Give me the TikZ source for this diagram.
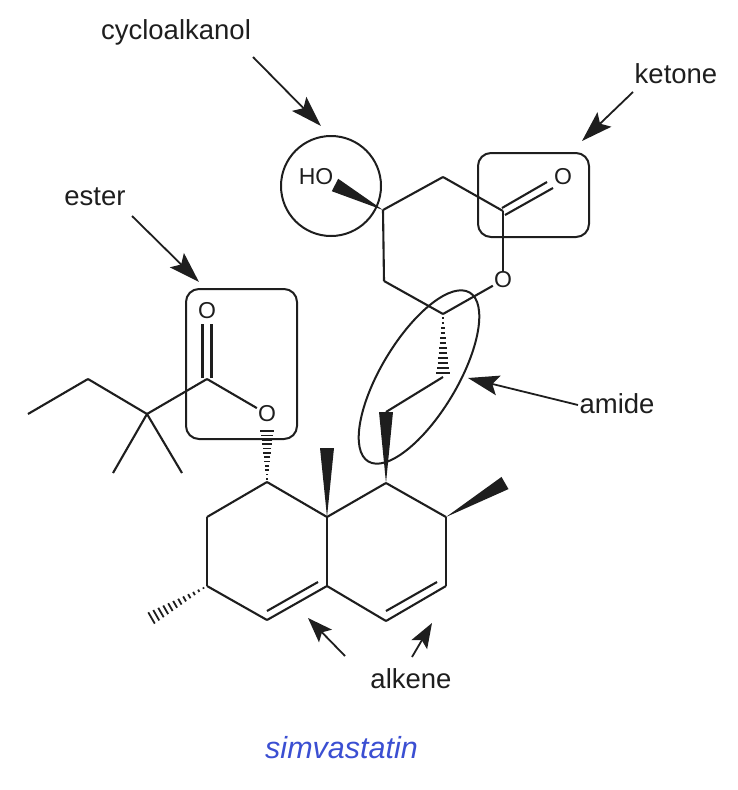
\documentclass[tikz,border=0pt]{standalone}
\usepackage{fontspec}
\setmainfont{Liberation Sans}
\usepackage{tikz}
\usetikzlibrary{arrows.meta}
\usetikzlibrary{calc}
\usetikzlibrary{shapes.geometric}
\definecolor{inkc}{HTML}{1E1E1E}
\definecolor{namec}{HTML}{3B4FD2}
\tikzset{
  bond/.style={draw=inkc,line width=2.1pt,line join=miter},
  atom/.style={inner sep=1pt,text=inkc,font=\fontsize{23}{25}\selectfont},
  lab/.style={inner sep=0pt,text=inkc,font=\fontsize{27.5}{30}\selectfont},
  pointer/.style={draw=inkc,line width=1.8pt,-{Stealth[length=31pt,width=20pt,inset=6pt]}},
  shortpointer/.style={draw=inkc,line width=1.8pt,-{Stealth[length=25pt,width=18pt,inset=5pt]}},
  ring/.style={draw=inkc,line width=2pt,inner sep=0pt},
}
% filled and hashed stereo bonds, narrow end first
\newcommand{\wedgebond}[2]{
  \fill[inkc] (#1) -- ($(#2)!7pt!90:(#1)$) -- ($(#2)!7pt!-90:(#1)$) -- cycle;
}
\newcommand{\hashbond}[2]{
  \foreach \t in {0.06,0.14,...,1.0}{
    \pgfmathsetmacro{\hw}{\t*6.5+0.4}
    \draw[inkc,line width=1.8pt]
      ($($(#1)!\t!(#2)$)!\hw pt!90:(#1)$) -- ($($(#1)!\t!(#2)$)!\hw pt!-90:(#1)$);
  }
}
\begin{document}
\begin{tikzpicture}[x=1pt,y=-1pt]
   \useasboundingbox (0,0) rectangle (738,790);
   % lactone ring
   \coordinate (c_1) at (383,210);
   \coordinate (c_2) at (443,177);
   \coordinate (c_3) at (503,211);
   \coordinate (c_4) at (443,314);
   \coordinate (c_5) at (384,281);
   \node[atom] (o_1) at (563,177) {O};
   \node[atom] (o_2) at (503,280) {O};
   \node[atom] (ho) at (316,177) {HO};
   % side chain
   \coordinate (c_6) at (443,377);
   \coordinate (c_7) at (386,412);
   % decalin
   \coordinate (r_1) at (386,483);
   \coordinate (r_2) at (446,517);
   \coordinate (r_3) at (446,586);
   \coordinate (r_4) at (386,621);
   \coordinate (r_5) at (327,586);
   \coordinate (r_6) at (327,517);
   \coordinate (r_7) at (267,482);
   \coordinate (r_8) at (207,517);
   \coordinate (r_9) at (207,586);
   \coordinate (r_10) at (267,620);
   \coordinate (m_1) at (327,448);
   \coordinate (m_2) at (505,483);
   \coordinate (m_3) at (148,620);
   % ester
   \node[atom] (o_3) at (267,414) {O};
   \node[atom] (o_4) at (207,311) {O};
   \coordinate (e_1) at (207,379);
   \coordinate (e_2) at (147,414);
   \coordinate (e_3) at (88,379);
   \coordinate (e_4) at (28,414);
   \coordinate (e_5) at (113,473);
   \coordinate (e_6) at (182,473);

   \path[bond]
    (c_1) edge (c_2)
    (c_2) edge (c_3)
    (c_3) edge (o_2)
    (o_2) edge (c_4)
    (c_4) edge (c_5)
    (c_5) edge (c_1)
    (c_6) edge (c_7)
    (r_1) edge (r_2)
    (r_2) edge (r_3)
    (r_3) edge (r_4)
    (r_4) edge (r_5)
    (r_5) edge (r_6)
    (r_6) edge (r_1)
    (r_6) edge (r_7)
    (r_7) edge (r_8)
    (r_8) edge (r_9)
    (r_9) edge (r_10)
    (r_10) edge (r_5)
    (e_1) edge (o_3)
    (e_1) edge (e_2)
    (e_2) edge (e_3)
    (e_3) edge (e_4)
    (e_2) edge (e_5)
    (e_2) edge (e_6);
   % double bonds
   \draw[bond] ($(c_3)+(-1,-3)$) -- ($(o_1)+(-16,5)$);
   \draw[bond] ($(c_3)+(2,4)$) -- ($(o_1)+(-10,11)$);
   \draw[bond] ($(e_1)+(-4.5,-1)$) -- ($(o_4)+(-4.5,13)$);
   \draw[bond] ($(e_1)+(4.5,-1)$) -- ($(o_4)+(4.5,13)$);
   \draw[bond] (267,611) -- (318,582);
   \draw[bond] (386,611) -- (437,582);

   \wedgebond{c_1}{335,185}
   \wedgebond{r_1}{c_7}
   \wedgebond{r_6}{m_1}
   \wedgebond{r_2}{m_2}
   \hashbond{c_4}{c_6}
   \hashbond{r_7}{267,428}
   \hashbond{r_9}{m_3}

   % highlights
   \node[ring,circle,minimum size=100pt] (hilite_a) at (331,186) {};
   \node[ring,rectangle,rounded corners=13pt,minimum width=111pt,minimum height=84pt] (hilite_b) at (533.5,195) {};
   \node[ring,rectangle,rounded corners=13pt,minimum width=111pt,minimum height=150pt] (hilite_c) at (241.5,364) {};
   \node[ring,ellipse,rotate=59,minimum width=197pt,minimum height=76pt] (hilite_d) at (419,377) {};

   % labels and arrows
   \node[lab] (cycloalkanol) at (176,32) {cycloalkanol};
   \node[lab] (ketone) at (676,74) {ketone};
   \node[lab] (ester) at (95,197) {ester};
   \node[lab] (amide) at (617,404) {amide};
   \node[lab] (alkene) at (411,679) {alkene};
   \node[inner sep=0pt,text=namec,font=\fontsize{30.5}{33}\selectfont\itshape] (title) at (341.5,748) {simvastatin};

   \coordinate (t_1) at (253,57);   \coordinate (h_1) at (321,126);
   \coordinate (t_2) at (633,92);   \coordinate (h_2) at (582,141);
   \coordinate (t_3) at (132,216);  \coordinate (h_3) at (199,282);
   \coordinate (t_4) at (578,405);  \coordinate (h_4) at (468,378);
   \coordinate (t_5) at (345,656);  \coordinate (h_5) at (308,618);
   \coordinate (t_6) at (412,657);  \coordinate (h_6) at (432,623);
   \foreach \i in {1,...,4}
     \draw[pointer] (t_\i) -- (h_\i);
   \foreach \i in {5,6}
     \draw[shortpointer] (t_\i) -- (h_\i);
\end{tikzpicture}
\end{document}
